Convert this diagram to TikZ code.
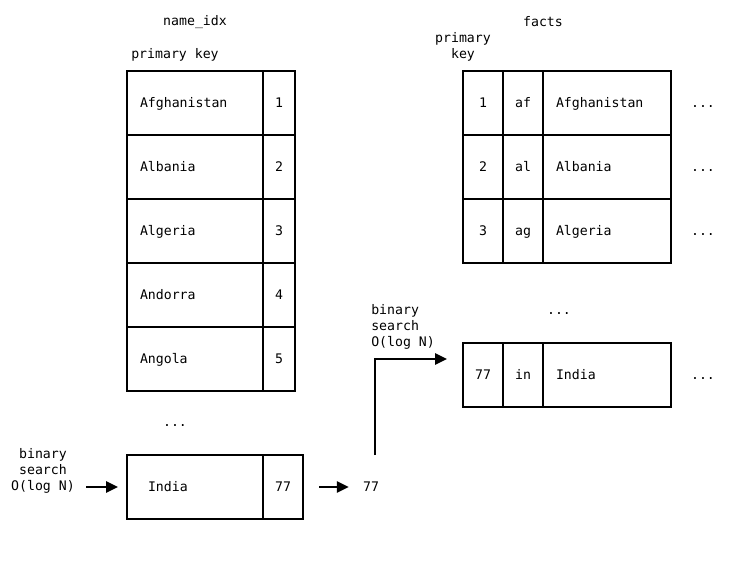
\documentclass[tikz,border=0pt]{standalone}
\usepackage{fontspec}
\setmonofont{DejaVu Sans Mono}
\usetikzlibrary{arrows.meta}
\begin{document}
\begin{tikzpicture}[x=0.75pt,y=-0.75pt,
  every node/.style={font=\ttfamily\fontsize{9.9}{12}\selectfont},
  cell/.style={draw,line width=1.5pt,minimum height=48pt,inner sep=0pt,text height=8.6pt,text depth=2.2pt},
  namecell/.style={cell,inner xsep=9.75pt,text width=82.5pt,align=left},
  numcell/.style={cell,minimum width=24pt},
  wcell/.style={cell,minimum width=30pt},
  fname/.style={cell,inner xsep=9.75pt,text width=76.5pt,align=left},
  lbl/.style={inner sep=0pt},
  arr/.style={line width=1.5pt,-{Triangle[length=9pt,width=8.5pt]}}]
\useasboundingbox (0,0) rectangle (752,577);

% left index table
\node[lbl] (t1) at (195,22) {name\_idx};
\node[lbl,anchor=west] (pk1) at (131,55) {primary key};
\foreach \i/\nm in {1/Afghanistan,2/Albania,3/Algeria,4/Andorra,5/Angola}{
  \node[namecell] (n\i) at (195,{103+64*(\i-1)}) {\nm};
  \node[numcell] (k\i) at (279,{103+64*(\i-1)}) {\i};
}
\node[lbl] (d1) at (175,426) {...};
\node[cell,inner xsep=15.75pt,text width=70.5pt,align=left] (in1) at (195,487) {India};
\node[wcell] (in2) at (283,487) {77};

\node[lbl,align=center] (ls) at (43,471) {binary\\search\\O(log N)};
\coordinate (a1) at (86,487);
\draw[arr,shorten >=6pt] (a1) -- (in1.west);

\node[lbl] (v77) at (371,487) {77};
\draw[arr,shorten <=11.25pt,shorten >=10.5pt] (in2.east) -- (v77.west);

\node[lbl,align=left,anchor=west] (rs) at (371,327) {binary\\search\\O(log N)};
\coordinate (up) at (375,455);
\coordinate (tgt) at (447,359);
\draw[arr] (up) |- (tgt);

% right facts table
\node[lbl] (t2) at (543,22) {facts};
\node[lbl,align=center] (pk2) at (463,47) {primary\\key};
\foreach \i/\cd/\nm in {1/af/Afghanistan,2/al/Albania,3/ag/Algeria}{
  \node[wcell] (fa\i) at (483,{103+64*(\i-1)}) {\i};
  \node[wcell] (fb\i) at (523,{103+64*(\i-1)}) {\cd};
  \node[fname] (fc\i) at (607,{103+64*(\i-1)}) {\nm};
  \node[lbl] (fd\i) at (703,{107+64*(\i-1)}) {...};
}
\node[lbl] (d2) at (559,314) {...};
\node[wcell] (f77a) at (483,375) {77};
\node[wcell] (f77b) at (523,375) {in};
\node[fname] (f77c) at (607,375) {India};
\node[lbl] (f77d) at (703,379) {...};
\end{tikzpicture}
\end{document}
